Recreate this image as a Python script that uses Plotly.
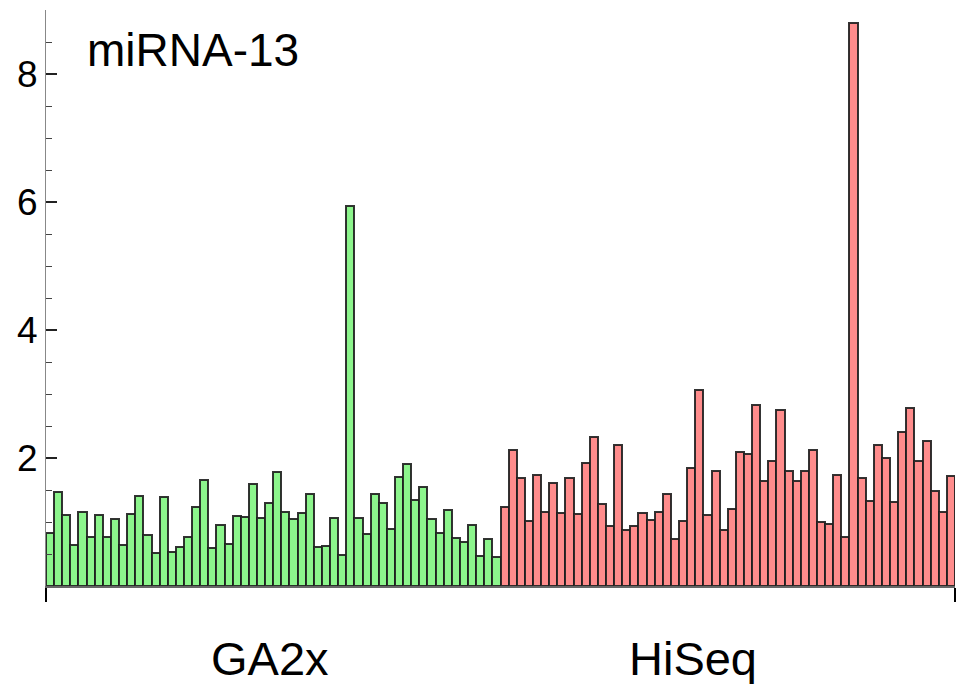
import plotly.graph_objects as go

ga2x_values = [0.83, 1.47, 1.11, 0.64, 1.16, 0.76, 1.11, 0.77, 1.04, 0.64,
               1.13, 1.40, 0.79, 0.52, 1.39, 0.53, 0.61, 0.76, 1.24, 1.65,
               0.60, 0.96, 0.65, 1.09, 1.08, 1.60, 1.06, 1.29, 1.78, 1.15,
               1.04, 1.14, 1.43, 0.61, 0.63, 1.07, 0.48, 5.93, 1.06, 0.81,
               1.44, 1.29, 0.89, 1.70, 1.91, 1.35, 1.55, 1.05, 0.83, 1.19,
               0.75, 0.69, 0.95, 0.47, 0.73, 0.46]
hiseq_values = [1.24, 2.13, 1.69, 1.01, 1.73, 1.15, 1.61, 1.14, 1.69, 1.12,
                1.92, 2.33, 1.28, 0.93, 2.20, 0.88, 0.94, 1.14, 1.03, 1.16,
                1.43, 0.73, 1.01, 1.84, 3.06, 1.11, 1.79, 0.87, 1.21, 2.09,
                2.06, 2.83, 1.64, 1.96, 2.75, 1.80, 1.64, 1.80, 2.13, 1.00,
                0.97, 1.74, 0.77, 8.80, 1.68, 1.33, 2.21, 2.00, 1.31, 2.41,
                2.78, 1.95, 2.27, 1.49, 1.16, 1.72]
group_labels = ["GA2x", "HiSeq"]
title_text = "miRNA-13"
y_ticks = [2, 4, 6, 8]

n_g = len(ga2x_values)
n_h = len(hiseq_values)
x_g = list(range(1, n_g + 1))
x_h = list(range(n_g + 1, n_g + n_h + 1))
n_total = n_g + n_h

edge = dict(color="rgba(30,30,30,0.9)", width=2)

fig = go.Figure()
fig.add_trace(go.Bar(x=x_g, y=ga2x_values, width=1.0,
                     marker=dict(color="#8CF58C", line=edge), showlegend=False))
fig.add_trace(go.Bar(x=x_h, y=hiseq_values, width=1.0,
                     marker=dict(color="#FF8C8C", line=edge), showlegend=False))

font_family = "Liberation Sans, Arial, sans-serif"

fig.update_layout(
    width=966, height=684,
    margin=dict(l=46, r=11, t=10, b=98),
    plot_bgcolor="white", paper_bgcolor="white",
    bargap=0,
    font=dict(family=font_family, color="black"),
    xaxis=dict(range=[0.5, n_total + 0.5], showgrid=False, zeroline=False,
               showline=True, linecolor="#666", linewidth=1.5,
               tickvals=[0.5, n_total + 0.5], ticktext=["", ""],
               ticks="outside", ticklen=14, tickwidth=2, tickcolor="black"),
    yaxis=dict(range=[0, 9], showgrid=False, zeroline=False,
               showline=True, linecolor="#888", linewidth=1.2,
               tickvals=y_ticks, ticks="inside", ticklen=11, tickwidth=1.5,
               tickcolor="#222", tickfont=dict(size=37, family=font_family),
               minor=dict(dtick=0.5, ticks="inside", ticklen=6,
                          tickcolor="#444", tickwidth=1)),
)

fig.add_annotation(text=title_text, xref="paper", yref="paper",
                   x=0.043, y=0.93, xanchor="left", yanchor="middle",
                   showarrow=False, font=dict(size=46, family=font_family))
label_x = [28.1, 80.2]
for lx, lab in zip(label_x, group_labels):
    fig.add_annotation(text=lab, x=lx, xref="x", yref="paper", y=-0.125,
                       xanchor="center", yanchor="middle", showarrow=False,
                       font=dict(size=47, family=font_family))

fig.write_html("out.html", config={"displayModeBar": False},
               post_script="document.body.style.margin='0';document.body.style.padding='0';")
